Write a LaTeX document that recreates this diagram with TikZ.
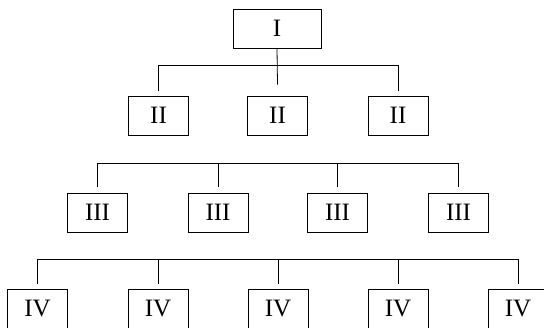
\documentclass[tikz,border=0pt]{standalone}
\usepackage{fontspec}
\setmainfont{Liberation Serif}
\newcommand{\lowtxt}[1]{\raisebox{-2pt}{#1}}
\begin{document}
\begin{tikzpicture}[x=1pt,y=1pt,
  box/.style={draw, line width=0.8pt, minimum width=60pt, minimum height=39pt, inner sep=0pt,
    font=\fontsize{25}{25}\selectfont},
  wide/.style={box, minimum width=88pt},
  link/.style={line width=0.8pt}]
\useasboundingbox (0,0) rectangle (544,-327);
% level I
\node[wide] (i) at (277,-28.5) {\lowtxt{I}};
% level II
\node[box] (iia) at (158.5,-115.5) {\lowtxt{II}};
\node[box] (iib) at (277.5,-115.5) {\lowtxt{II}};
\node[box] (iic) at (398,-115.5) {\lowtxt{II}};
% level III
\node[box] (iiia) at (97.5,-212.5) {\lowtxt{III}};
\node[box] (iiib) at (218,-212.5) {\lowtxt{III}};
\node[box] (iiic) at (337.5,-212.5) {\lowtxt{III}};
\node[box] (iiid) at (458.5,-212.5) {\lowtxt{III}};
% level IV
\node[box] (iva) at (37.5,-308.5) {\lowtxt{IV}};
\node[box] (ivb) at (158,-308.5) {\lowtxt{IV}};
\node[box] (ivc) at (278,-308.5) {\lowtxt{IV}};
\node[box] (ivd) at (398,-308.5) {\lowtxt{IV}};
\node[box] (ive) at (518,-308.5) {\lowtxt{IV}};
% bus levels
\coordinate (b1) at (0,-65.5);
\coordinate (b2) at (0,-163);
\coordinate (b3) at (0,-259);
% connectors level 1-2
\draw[link] (i.south) -- ([yshift=11pt]iib.north);
\draw[link] ([yshift=5pt]iia.north) -- (iia.north |- b1) -- (iic.north |- b1) -- ([yshift=5pt]iic.north);
% connectors level 3
\draw[link] ([yshift=6pt]iiia.north) -- (iiia.north |- b2) -- (iiid.north |- b2) -- ([yshift=6pt]iiid.north);
\draw[link] (iiib.north |- b2) -- ([yshift=6pt]iiib.north);
\draw[link] (iiic.north |- b2) -- ([yshift=6pt]iiic.north);
% connectors level 4
\draw[link] ([yshift=5pt]iva.north) -- (iva.north |- b3) -- (ive.north |- b3) -- ([yshift=5pt]ive.north);
\draw[link] (ivb.north |- b3) -- ([yshift=5pt]ivb.north);
\draw[link] (ivc.north |- b3) -- ([yshift=5pt]ivc.north);
\draw[link] (ivd.north |- b3) -- ([yshift=5pt]ivd.north);
\end{tikzpicture}
\end{document}
